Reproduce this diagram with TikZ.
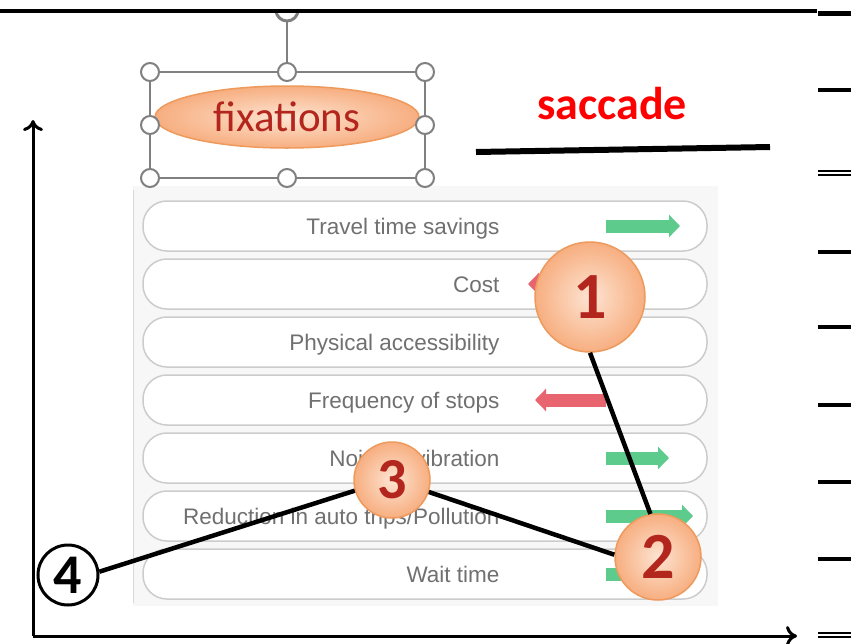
\documentclass[tikz,border=0pt]{standalone}
\usepackage{fontspec}
\setmainfont{Carlito}
\newfontfamily\rowfont{Liberation Sans}
\usetikzlibrary{arrows.meta}
\usetikzlibrary{shapes.geometric}

\definecolor{peach}{HTML}{F7AE80}
\definecolor{peachlight}{HTML}{FDE4D2}
\definecolor{peachline}{HTML}{EE9A5C}
\definecolor{darkred}{HTML}{B3261E}
\definecolor{rowgray}{HTML}{707070}
\definecolor{handlegray}{HTML}{808080}
\definecolor{goodgreen}{HTML}{5CCB8C}
\definecolor{badred}{HTML}{E8646E}

\tikzset{
	rowbox/.style={draw=gray!40, line width=1.5pt, fill=white, rounded corners=24pt,
		minimum width=564pt, minimum height=50pt, inner sep=0pt},
	rowtext/.style={font=\rowfont\fontsize{22.5}{23}\selectfont, text=rowgray, anchor=base east},
	handle/.style={circle, draw=handlegray, line width=2pt, fill=white, minimum size=18pt, inner sep=0pt},
	numdot/.style={circle, draw=peachline, line width=1.5pt, inner color=peachlight, outer color=peach,
		text=darkred, font=\bfseries\fontsize{66}{66}\selectfont, inner sep=0pt},
	goodarrow/.style={goodgreen, line width=13pt, -{Triangle[length=11pt,width=22pt]}},
	badarrow/.style={badred, line width=13pt, -{Triangle[length=11pt,width=22pt]}},
	scanpath/.style={line width=4.5pt, black},
	axis/.style={line width=3pt, -{Computer Modern Rightarrow[length=11pt,width=20pt]}},
	rule/.style={line width=3.5pt},
	thinrule/.style={line width=1.5pt},
}

\begin{document}
\begin{tikzpicture}[x=1pt, y=-1pt]
\useasboundingbox (0,0) rectangle (851,643);

	% panel with the factors
\fill[gray!6] (133,186) rectangle (718,606);
\draw[gray!30, line width=1pt] (133,190) -- (133,603);

\path
	(425,226) node[rowbox] (r1) {}
	(425,284) node[rowbox] (r2) {}
	(425,342) node[rowbox] (r3) {}
	(425,400) node[rowbox] (r4) {}
	(425,458) node[rowbox] (r5) {}
	(425,516) node[rowbox] (r6) {}
	(425,574) node[rowbox] (r7) {}
	;

\path
	(503,234) node[rowtext] (t1) {Travel time savings}
	(503,292) node[rowtext] (t2) {Cost}
	(503,350) node[rowtext] (t3) {Physical accessibility}
	(503,408) node[rowtext] (t4) {Frequency of stops}
	(503,466) node[rowtext] (t5) {Noise \& vibration}
	(503,524) node[rowtext] (t6) {Reduction in auto trips/Pollution}
	(503,582) node[rowtext] (t7) {Wait time}
	;

\draw[goodarrow] (606,226) -- (680,226);
\draw[badarrow] (565,284) -- (528,284);
\draw[badarrow] (606,400) -- (535,400);
\draw[goodarrow] (606,458) -- (669,458);
\draw[goodarrow] (606,516) -- (693,516);
\draw[goodarrow] (606,574) -- (645,574);

	% selected shape
\draw[handlegray, line width=3pt] (287,10) circle (11pt);
\fill[white] (0,0) rectangle (851,10);
\draw[handlegray, line width=1.2pt] (150,72) rectangle (425,178);
\draw[handlegray, line width=1.2pt] (287,63) -- (287,21);
\path (287,117) node[ellipse, draw=peachline, line width=1.5pt, inner color=peachlight, outer color=peach,
	minimum width=264pt, minimum height=62pt, text=darkred, font=\fontsize{43}{43}\selectfont] (fix) {fixations};
\path
	(150,72) node[handle] (h1) {}
	(287,72) node[handle] (h2) {}
	(425,72) node[handle] (h3) {}
	(150,125) node[handle] (h4) {}
	(425,125) node[handle] (h5) {}
	(150,178) node[handle] (h6) {}
	(287,178) node[handle] (h7) {}
	(425,178) node[handle] (h8) {}
	;

\path (612,104) node[text=red, font=\bfseries\fontsize{46}{46}\selectfont] (sac) {saccade};
\draw[line width=6pt] (476,152) -- (770,147);

	% fixation points
\path
	(590,297) node[numdot, minimum size=110pt] (c1) {1}
	(658,557) node[numdot, minimum size=86pt] (c2) {2}
	(392,480) node[numdot, minimum size=76pt, font=\bfseries\fontsize{58}{58}\selectfont] (c3) {3}
	(68,575) node[circle, draw, line width=3pt, fill=white, minimum size=60pt, inner sep=0pt,
		font=\bfseries\fontsize{56}{56}\selectfont] (c4) {4}
	;

\draw[scanpath] (c1.south) -- (c2.100);
\draw[scanpath] (c2.177) -- (c3.-18);
\draw[scanpath] (c3.196) -- (c4.6);

	% axes
\coordinate (o) at (33,636);
\coordinate (ytop) at (33,120);
\coordinate (xend) at (797,636);
\draw[axis] (o) -- (ytop);
\draw[axis] (o) -- (xend);

	% rules on top and right
\draw[rule] (0,11) -- (817,11);
\draw[line width=5pt] (818,13) -- (851,13);
\draw[rule] (818,90) -- (851,90);
\draw[thinrule] (818,171) -- (851,171) (818,175) -- (851,175);
\draw[rule] (818,252) -- (851,252);
\draw[rule] (818,327) -- (851,327);
\draw[rule] (818,405) -- (851,405);
\draw[rule] (818,482) -- (851,482);
\draw[rule] (818,559) -- (851,559);
\draw[thinrule] (818,633) -- (851,633) (818,637) -- (851,637);
\end{tikzpicture}
\end{document}
